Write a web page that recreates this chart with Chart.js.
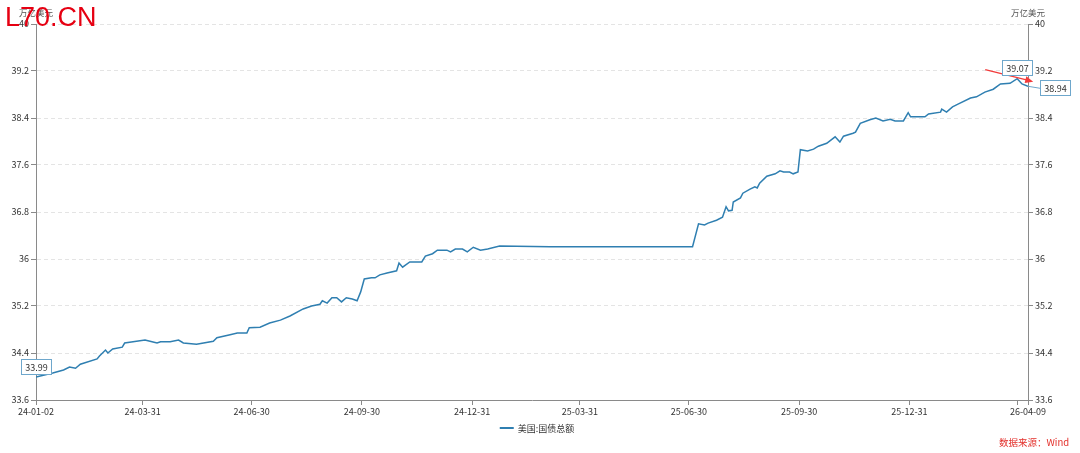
<!DOCTYPE html>
<html><head><meta charset="utf-8">
<script src="https://cdn.jsdelivr.net/npm/chart.js@4/dist/chart.umd.min.js"></script>
<style>
html,body{margin:0;padding:0;background:#fff;}
#wrap{position:relative;width:1080px;height:453px;}
canvas{display:block;}
</style></head><body>
<div id="wrap"><canvas id="c" width="1080" height="453"></canvas></div>
<script>
const dates = [
'2024-01-02','2024-01-16','2024-01-25','2024-01-30','2024-02-04','2024-02-08','2024-02-22','2024-02-24','2024-02-29','2024-03-02',
'2024-03-06','2024-03-14','2024-03-16','2024-03-23','2024-04-02','2024-04-12','2024-04-15','2024-04-23','2024-04-30','2024-05-04',
'2024-05-15','2024-05-29','2024-06-01','2024-06-12','2024-06-18','2024-06-26','2024-06-28','2024-07-07','2024-07-15','2024-07-24',
'2024-08-01','2024-08-12','2024-08-19','2024-08-26','2024-08-28','2024-09-01','2024-09-05','2024-09-09','2024-09-13','2024-09-17',
'2024-09-22','2024-09-26','2024-09-29','2024-10-02','2024-10-08','2024-10-11','2024-10-15','2024-10-21','2024-10-29','2024-10-31',
'2024-11-03','2024-11-09','2024-11-19','2024-11-22','2024-11-28','2024-12-02','2024-12-10','2024-12-13','2024-12-17','2024-12-23',
'2024-12-27','2025-01-01','2025-01-07','2025-01-13','2025-01-23','2025-03-06','2025-05-03','2025-07-03','2025-07-08','2025-07-13',
'2025-07-16','2025-07-23','2025-07-28','2025-07-31','2025-08-02','2025-08-05','2025-08-06','2025-08-12','2025-08-14','2025-08-20',
'2025-08-24','2025-08-26','2025-08-28','2025-09-03','2025-09-10','2025-09-14','2025-09-17','2025-09-22','2025-09-25','2025-09-29',
'2025-10-01','2025-10-07','2025-10-12','2025-10-16','2025-10-23','2025-10-30','2025-11-03','2025-11-06','2025-11-14','2025-11-16',
'2025-11-20','2025-11-28','2025-12-03','2025-12-09','2025-12-15','2025-12-19','2025-12-26','2025-12-30','2026-01-01','2026-01-13',
'2026-01-16','2026-01-26','2026-01-27','2026-01-31','2026-02-05','2026-02-10','2026-02-20','2026-02-25','2026-03-04','2026-03-11',
'2026-03-17','2026-03-25','2026-03-31','2026-04-04','2026-04-09'
];
const debt = [
33.99,34.06,34.11,34.16,34.14,34.21,34.30,34.35,34.45,34.40,
34.47,34.50,34.57,34.59,34.62,34.57,34.59,34.59,34.62,34.57,
34.55,34.60,34.66,34.71,34.74,34.74,34.83,34.84,34.91,34.96,
35.03,35.15,35.20,35.23,35.29,35.25,35.34,35.34,35.27,35.34,
35.32,35.29,35.44,35.66,35.68,35.68,35.73,35.76,35.80,35.93,
35.86,35.95,35.95,36.05,36.09,36.15,36.15,36.12,36.17,36.17,
36.12,36.20,36.15,36.17,36.22,36.21,36.21,36.21,36.60,36.58,
36.61,36.66,36.71,36.89,36.82,36.83,36.97,37.04,37.12,37.19,
37.23,37.21,37.29,37.41,37.45,37.50,37.48,37.48,37.45,37.48,
37.86,37.84,37.87,37.92,37.97,38.08,37.99,38.09,38.14,38.16,
38.31,38.37,38.40,38.35,38.38,38.35,38.35,38.49,38.42,38.42,
38.47,38.50,38.55,38.50,38.59,38.64,38.74,38.76,38.84,38.89,
38.98,38.99,39.07,38.98,38.94
];
const tickDates = ['2024-01-02','2024-03-31','2024-06-30','2024-09-30','2024-12-31','2025-03-31','2025-06-30','2025-09-30','2025-12-31','2026-03-31','2026-04-09'];
const tickLabels = ['24-01-02','24-03-31','24-06-30','24-09-30','24-12-31','25-03-31','25-06-30','25-09-30','25-12-31','','26-04-09'];
const yTicks = [33.6,34.4,35.2,36,36.8,37.6,38.4,39.2,40];
const seriesName = '美国:国债总额';
const unitText = '万亿美元';
const sourceText = '数据来源：Wind';
const watermark = 'L70.CN';

const t0 = Date.parse(dates[0] + 'T00:00:00Z');
const day = d => (Date.parse(d + 'T00:00:00Z') - t0) / 864e5;

const LINE = '#2f7fb1';
const AXIS = '#8a8a8a';
const FONT = '"Noto Sans CJK SC","Noto Sans",sans-serif';

const overlay = {
  id: 'overlay',
  afterDatasetsDraw(chart) {
    const ctx = chart.ctx;
    const pts = chart.getDatasetMeta(0).data;
    const iMax = debt.indexOf(Math.max(...debt));
    const iLast = debt.length - 1;
    const box = (txt, cx, cy) => {
      ctx.save();
      ctx.font = '9px ' + FONT;
      const w = Math.round(ctx.measureText(txt).width + 8), h = 15;
      const x = Math.round(cx - w / 2) + 0.5, y = Math.round(cy - h / 2) + 0.5;
      ctx.fillStyle = '#fff';
      ctx.fillRect(x, y, w, h);
      ctx.strokeStyle = '#6ea7cc';
      ctx.lineWidth = 1;
      ctx.strokeRect(x, y, w, h);
      ctx.fillStyle = '#333';
      ctx.textAlign = 'center';
      ctx.textBaseline = 'middle';
      ctx.fillText(txt, x + w / 2, y + h / 2 + 0.5);
      ctx.restore();
      return w;
    };
    // first
    const p0 = pts[0];
    box(debt[0].toFixed(2), p0.x, p0.y - 10.5);
    // max
    const pm = pts[iMax];
    // red arrow
    ctx.save();
    ctx.strokeStyle = '#f23b3b';
    ctx.fillStyle = '#f23b3b';
    ctx.lineWidth = 1.3;
    const ax1 = pm.x - 32, ay1 = pm.y - 9, ax2 = pm.x + 16, ay2 = pm.y + 3;
    const ang = Math.atan2(ay2 - ay1, ax2 - ax1);
    ctx.beginPath(); ctx.moveTo(ax1, ay1); ctx.lineTo(ax2 - 6 * Math.cos(ang), ay2 - 6 * Math.sin(ang)); ctx.stroke();
    ctx.beginPath();
    ctx.moveTo(ax2, ay2);
    ctx.lineTo(ax2 - 8 * Math.cos(ang) + 3.5 * Math.sin(ang), ay2 - 8 * Math.sin(ang) - 3.5 * Math.cos(ang));
    ctx.lineTo(ax2 - 8 * Math.cos(ang) - 3.5 * Math.sin(ang), ay2 - 8 * Math.sin(ang) + 3.5 * Math.cos(ang));
    ctx.closePath(); ctx.fill();
    ctx.restore();
    box(debt[iMax].toFixed(2), pm.x, pm.y - 11.5);
    // last
    const pl = pts[iLast];
    ctx.save();
    ctx.strokeStyle = '#6ea7cc';
    ctx.lineWidth = 1;
    ctx.beginPath(); ctx.moveTo(pl.x, pl.y); ctx.lineTo(pl.x + 12, pl.y + 2); ctx.stroke();
    ctx.restore();
    ctx.save(); ctx.font = '9px ' + FONT;
    const wl = ctx.measureText(debt[iLast].toFixed(2)).width + 8; ctx.restore();
    box(debt[iLast].toFixed(2), pl.x + 12 + wl / 2, pl.y + 1);
  },
  afterDraw(chart) {
    const ctx = chart.ctx;
    const a = chart.chartArea;
    ctx.save();
    ctx.textBaseline = 'middle';
    ctx.font = '8.5px ' + FONT;
    ctx.fillStyle = '#555';
    ctx.textAlign = 'left';
    ctx.fillText(unitText, 19, 12.5);
    ctx.fillText(unitText, 1011, 13);
    // legend
    const cx = (a.left + a.right) / 2;
    ctx.font = '9px ' + FONT;
    const tw = ctx.measureText(seriesName).width;
    const lx = cx - (14 + 4 + tw) / 2 + 5;
    ctx.strokeStyle = LINE; ctx.lineWidth = 2;
    ctx.beginPath(); ctx.moveTo(lx, 428); ctx.lineTo(lx + 14, 428); ctx.stroke();
    ctx.fillStyle = '#333';
    ctx.fillText(seriesName, lx + 18, 428.5);
    // source
    ctx.font = '9.5px ' + FONT;
    ctx.fillStyle = '#e3302b';
    ctx.fillText(sourceText, 999, 442.5);
    // watermark
    ctx.font = '27px "Liberation Sans", Arial, sans-serif';
    ctx.fillStyle = '#e60012';
    ctx.textBaseline = 'alphabetic';
    ctx.fillText(watermark, 5, 25.5);
    ctx.restore();
  }
};

const yCommon = (pos) => ({
  type: 'linear', position: pos, min: 33.6, max: 40,
  afterBuildTicks: s => { s.ticks = yTicks.map(v => ({ value: v })); },
  ticks: { callback: v => String(v), color: '#333', font: { size: 9, family: FONT }, padding: 2 },
  grid: { color: pos === 'left' ? '#e4e4e4' : 'transparent', drawOnChartArea: pos === 'left', tickLength: 5, tickColor: AXIS, lineWidth: 1 },
  border: { display: true, color: AXIS, dash: [4, 3] },
  afterFit: s => { s.width = pos === 'left' ? 36 : 52; }
});

new Chart(document.getElementById('c'), {
  type: 'line',
  data: {
    datasets: [{
      label: seriesName,
      data: dates.map((d, i) => ({ x: day(d), y: debt[i] })),
      borderColor: LINE, borderWidth: 1.5, pointRadius: 0, tension: 0, fill: false
    }]
  },
  options: {
    responsive: false, animation: false, devicePixelRatio: 1,
    layout: { padding: { top: 24, left: 0, right: 0, bottom: 0 } },
    plugins: { legend: { display: false }, tooltip: { enabled: false } },
    scales: {
      x: {
        type: 'linear', min: 0, max: day(dates[dates.length - 1]),
        afterBuildTicks: s => { s.ticks = tickDates.map(d => ({ value: day(d) })); },
        ticks: { autoSkip: false, maxRotation: 0, callback: (v, i) => tickLabels[i], color: '#333', font: { size: 9, family: FONT }, padding: 1 },
        grid: { drawOnChartArea: false, tickLength: 5, tickColor: AXIS },
        border: { display: true, color: AXIS },
        afterFit: s => { s.height = 53; }
      },
      y: yCommon('left'),
      y2: yCommon('right')
    }
  },
  plugins: [overlay]
});
</script>
</body></html>
